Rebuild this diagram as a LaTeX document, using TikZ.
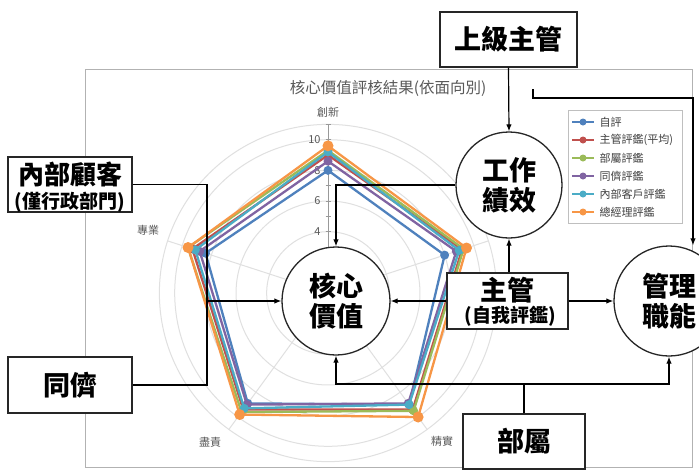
\documentclass[tikz,border=0pt]{standalone}
\usepackage{fontspec}
\setmainfont{Noto Sans CJK TC}
\usetikzlibrary{arrows.meta}
\definecolor{cBlue}{RGB}{79,129,189}
\definecolor{cRed}{RGB}{192,80,77}
\definecolor{cGreen}{RGB}{155,187,89}
\definecolor{cPurple}{RGB}{128,100,162}
\definecolor{cTeal}{RGB}{75,172,198}
\definecolor{cOrange}{RGB}{247,150,70}
\begin{document}
\begin{tikzpicture}[x=1pt,y=-1pt,
  box/.style={draw=black!85,line width=1.3pt,fill=white,inner sep=0pt},
  bigtxt/.style={font=\bfseries\fontsize{27}{30}\selectfont},
  smalltxt/.style={font=\bfseries\fontsize{19}{22}\selectfont,inner sep=0pt},
  circ/.style={circle,draw=black!85,line width=1.3pt,fill=white,inner sep=0pt,align=center,font=\bfseries\fontsize{27}{30}\selectfont},
  arr/.style={line width=1.2pt,-{Latex[length=7pt,width=5.5pt]}},
  con/.style={line width=1.2pt},
  gridc/.style={draw=black!12,line width=1pt},
  lab/.style={text=black!65,font=\fontsize{11}{12}\selectfont},
  series/.style={line width=2.3pt,line join=round}]
\useasboundingbox (0,0) rectangle (699,472);
\fill[white] (0,0) rectangle (699,472);
% chart frame and title
\draw[black!30,line width=0.8pt] (85,69) rectangle (692,467);
\node[text=black!65,font=\fontsize{15.5}{17}\selectfont] (title) at (388,88) {核心價值評核結果(依面向別)};
% radar chart
\begin{scope}[shift={(328,293)},y=1pt]
  \foreach \r in {2,4,6,8,10,11} \draw[gridc] (0,0) circle[radius={\r*15.33}];
  \foreach \a in {90,18,-54,-126,162} \draw[gridc] (0,0) -- (\a:{11*15.33});
  \draw[black!40,line width=0.8pt] (0,0) -- (0,{11*15.33});
  \foreach \t in {1,...,11} \draw[black!40,line width=0.8pt] (-2.5,{\t*15.33}) -- (2.5,{\t*15.33});
  \foreach \t in {4,6,8,10} \node[lab,anchor=east] (tick\t) at (-4,{\t*15.33}) {\t};
  \foreach \col/\va/\vb/\vc/\vd/\ve/\rr in {
      cBlue/8.0/8.0/9.0/8.9/8.4/4.5,
      cRed/9.0/9.2/9.4/9.4/9.3/4.5,
      cGreen/9.3/9.3/9.5/9.6/9.6/4.5,
      cPurple/8.6/8.8/8.9/9.0/8.8/4.5,
      cTeal/9.2/9.0/9.0/9.3/9.1/4.5,
      cOrange/9.6/9.5/10.0/9.8/9.6/5.5} {
    \draw[series,draw=\col] (90:{\va*15.33}) -- (18:{\vb*15.33}) -- (-54:{\vc*15.33}) -- (-126:{\vd*15.33}) -- (162:{\ve*15.33}) -- cycle;
    \foreach \ang/\v in {90/\va,18/\vb,-54/\vc,-126/\vd,162/\ve}
      \fill[\col] (\ang:{\v*15.33}) circle[radius=\rr];
  }
\end{scope}
\node[lab] (cat1) at (328,112) {創新};
\node[lab] (cat2) at (148,230) {專業};
\node[lab] (cat3) at (210,442) {盡責};
\node[lab] (cat4) at (442,441) {精實};
% legend
\draw[black!25,line width=0.8pt,fill=white] (568,110) rectangle (682,223);
\foreach \i/\col/\txt in {0/cBlue/自評,1/cRed/主管評鑑(平均),2/cGreen/部屬評鑑,3/cPurple/同儕評鑑,4/cTeal/內部客戶評鑑,5/cOrange/總經理評鑑} {
  \draw[\col,line width=1.5pt] (572,{122+18*\i}) -- (594,{122+18*\i});
  \fill[\col] (583,{122+18*\i}) circle[radius=3.5];
  \node[anchor=west,text=black!75,font=\fontsize{11}{12}\selectfont] (leg\i) at (596,{122+18*\i}) {\txt};
}
% boxes and circles
\node[box,bigtxt,minimum width=137pt,minimum height=55pt] (top) at (508.5,39.5) {上級主管};
\node[box,minimum width=124pt,minimum height=55pt] (ic) at (70,184.5) {};
\node[font=\bfseries\fontsize{26}{30}\selectfont,inner sep=0pt] (ic1) at (70,174) {內部顧客};
\node[smalltxt] (ic2) at (70,202) {(僅行政部門)};
\node[box,bigtxt,minimum width=124pt,minimum height=56pt] (peer) at (70,385) {同儕};
\node[box,minimum width=121pt,minimum height=56pt] (sup) at (507.5,301) {};
\node[bigtxt,inner sep=0pt] (sup1) at (507.5,290) {主管};
\node[smalltxt] (sup2) at (510,316) {(自我評鑑)};
\node[box,bigtxt,minimum width=122pt,minimum height=55pt] (sub) at (524,441.5) {部屬};
\node[circ,minimum size=106pt] (wp) at (509,185) {工作\\績效};
\node[circ,minimum size=108pt] (cv) at (336,301) {核心\\價值};
\node[circ,minimum size=110pt] (mg) at (669,301) {管理\\職能};
% connectors
\coordinate (j1) at (207,301);
\coordinate (j2) at (524,384);
\coordinate (q) at (533,89);
\coordinate (qc) at (693,98);
\draw[arr] (top.south) -- (wp.north);
\draw[arr] (q) |- (qc) -- (qc |- mg.north);
\draw[arr] (sup.north -| wp.south) -- (wp.south);
\draw[arr] (sup.east) -- (mg.west);
\draw[arr] (sup.west) -- (cv.east);
\draw[arr] (wp.west) -| (cv.north);
\draw[con] (ic.east) -| (j1);
\draw[con] (peer.east) -| (j1);
\draw[arr] (j1) -- (cv.west);
\draw[con] (sub.north) -- (j2);
\draw[arr] (j2) -| (cv.south);
\draw[arr] (j2) -| (mg.south);
\end{tikzpicture}
\end{document}
